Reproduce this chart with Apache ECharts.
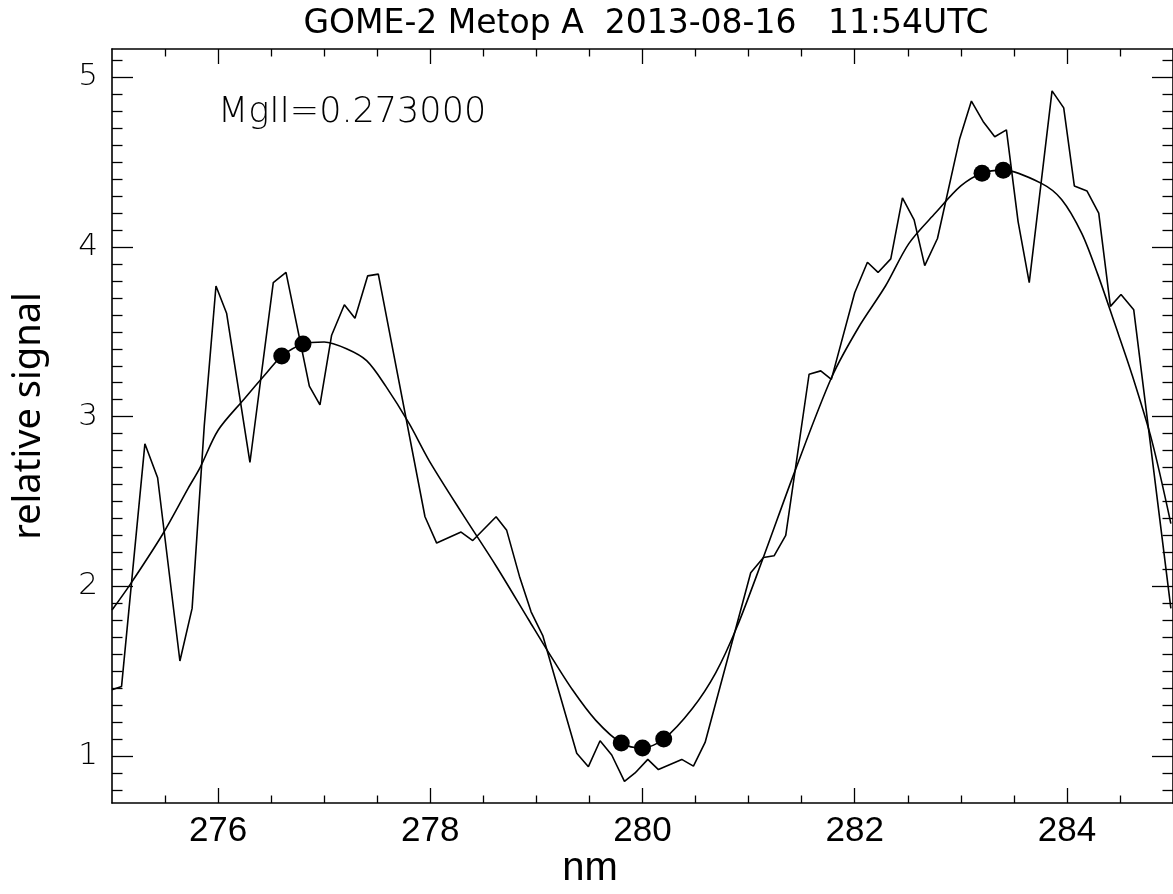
<!DOCTYPE html>
<html>
<head>
<meta charset="utf-8">
<script src="https://cdn.jsdelivr.net/npm/echarts@6/dist/echarts.min.js"></script>
<style>
html,body{margin:0;padding:0;background:#fff;}
#chart{width:1173px;height:894px;}
</style>
</head>
<body>
<div id="chart"></div>
<script>
// Measured spectrum (jagged line): wavelength (nm) and relative signal
const specNm = [275.00,275.09,275.31,275.43,275.64,275.755,275.87,275.98,276.08,276.30,276.52,276.64,276.86,276.96,277.07,277.19,277.29,277.41,277.51,277.95,278.06,278.29,278.40,278.62,278.72,278.84,278.95,279.06,279.38,279.49,279.60,279.71,279.83,279.93,280.05,280.15,280.37,280.48,280.59,281.02,281.14,281.24,281.35,281.57,281.68,281.78,282.00,282.12,282.22,282.34,282.45,282.56,282.66,282.78,282.99,283.10,283.21,283.32,283.43,283.54,283.645,283.86,283.97,284.07,284.19,284.30,284.41,284.51,284.63,284.98];
const specVal = [1.39,1.41,2.84,2.64,1.56,1.87,2.95,3.77,3.61,2.73,3.79,3.85,3.18,3.07,3.48,3.66,3.58,3.83,3.84,2.41,2.255,2.32,2.27,2.41,2.33,2.06,1.85,1.71,1.016,0.937,1.09,1.006,0.85,0.90,0.98,0.92,0.98,0.94,1.08,2.08,2.17,2.18,2.30,3.25,3.27,3.22,3.73,3.91,3.85,3.93,4.29,4.16,3.89,4.05,4.64,4.86,4.74,4.65,4.69,4.15,3.79,4.92,4.82,4.36,4.33,4.20,3.65,3.72,3.63,1.87];

// Smooth fitted curve
const fitNm = [275.00,275.17,275.48,275.72,275.83,276.00,276.24,276.46,276.60,276.80,277.00,277.21,277.40,277.58,277.80,277.99,278.30,278.62,278.93,279.12,279.34,279.56,279.80,280.00,280.20,280.47,280.69,280.89,281.13,281.44,281.785,282.04,282.29,282.51,282.76,283.00,283.20,283.40,283.76,283.95,284.14,284.29,284.45,284.61,284.80,284.98];
const fitVal = [1.86,2.01,2.31,2.58,2.70,2.92,3.10,3.26,3.357,3.428,3.44,3.40,3.33,3.18,2.96,2.74,2.43,2.12,1.80,1.605,1.39,1.21,1.077,1.047,1.10,1.28,1.49,1.76,2.155,2.685,3.235,3.53,3.77,4.02,4.20,4.36,4.435,4.453,4.375,4.28,4.08,3.84,3.55,3.255,2.86,2.37];

// Marked points (core / wing samples)
const dotNm = [276.6,276.8,279.8,280.0,280.2,283.2,283.4];
const dotVal = [3.357,3.428,1.077,1.047,1.10,4.435,4.453];

// Tick values
const xMajor = [276,278,280,282,284];
const xMinor = [275.5,276.5,277,277.5,278.5,279,279.5,280.5,281,281.5,282.5,283,283.5,284.5];
const yMajor = [1,2,3,4,5];
const yMinor = [0.8,0.9,1.1,1.2,1.3,1.4,1.5,1.6,1.7,1.8,1.9,2.1,2.2,2.3,2.4,2.5,2.6,2.7,2.8,2.9,3.1,3.2,3.3,3.4,3.5,3.6,3.7,3.8,3.9,4.1,4.2,4.3,4.4,4.5,4.6,4.7,4.8,4.9,5.1];

const titleText = 'GOME-2 Metop A  2013-08-16   11:54UTC';
const annotText = 'MgII=0.273000';
const xTitle = 'nm';
const yTitle = 'relative signal';

const X_MIN = 275, X_MAX = 285, Y_MIN = 0.723, Y_MAX = 5.167;
const black = '#000';

function xAx(pos, ticks, len, showLabel, showLine) {
  return {
    type: 'value', position: pos, min: X_MIN, max: X_MAX,
    axisLine: {show: showLine, onZero: false, lineStyle: {color: black, width: 1.6}},
    axisTick: {show: true, inside: true, length: len, customValues: ticks, lineStyle: {color: black, width: 1.3}},
    axisLabel: showLabel ? {show: true, customValues: ticks, color: black, fontFamily: 'Liberation Sans, Arial, sans-serif', fontSize: 35, margin: 11} : {show: false},
    splitLine: {show: false}
  };
}
function yAx(pos, ticks, len, showLabel, showLine) {
  return {
    type: 'value', position: pos, min: Y_MIN, max: Y_MAX,
    axisLine: {show: showLine, onZero: false, lineStyle: {color: black, width: 1.6}},
    axisTick: {show: true, inside: true, length: len, customValues: ticks, lineStyle: {color: black, width: 1.3}},
    axisLabel: showLabel ? {show: true, customValues: ticks, color: black, fontFamily: 'DejaVu Sans, Lato, sans-serif', fontWeight: 200, fontSize: 31, margin: 14} : {show: false},
    splitLine: {show: false}
  };
}

const chart = echarts.init(document.getElementById('chart'), null, {renderer: 'canvas'});
chart.setOption({
  backgroundColor: '#fff',
  animation: false,
  title: {
    text: titleText, left: 641, top: 3, textAlign: 'center',
    textStyle: {color: black, fontFamily: 'DejaVu Sans, Verdana, sans-serif', fontWeight: 'normal', fontSize: 33}
  },
  grid: {left: 112, right: -2, top: 49, bottom: 91, containLabel: false},
  xAxis: [
    xAx('bottom', xMajor, 15, true, true),
    xAx('bottom', xMinor, 7.5, false, false),
    xAx('top', xMajor, 15, false, true),
    xAx('top', xMinor, 7.5, false, false)
  ],
  yAxis: [
    yAx('left', yMajor, 21, true, true),
    yAx('left', yMinor, 10.5, false, false),
    yAx('right', yMajor, 21, false, true),
    yAx('right', yMinor, 10.5, false, false)
  ],
  graphic: [
    {
      type: 'text', left: 218, top: 95,
      style: {text: annotText, fill: black, font: '200 35px "DejaVu Sans", Lato, sans-serif'}
    },
    {
      type: 'text', x: 590, y: 869,
      style: {text: xTitle, fill: black, font: '40px "Liberation Sans", Arial, sans-serif', align: 'center', verticalAlign: 'middle'}
    },
    {
      type: 'text', x: 29, y: 416, rotation: Math.PI / 2,
      style: {text: yTitle, fill: black, font: '38px "Noto Sans", "Open Sans", sans-serif', align: 'center', verticalAlign: 'middle'}
    }
  ],
  series: [
    {
      type: 'line', xAxisIndex: 0, yAxisIndex: 0,
      data: specNm.map((x, i) => [x, specVal[i]]),
      showSymbol: false, symbol: 'none', clip: true,
      lineStyle: {color: black, width: 1.6}
    },
    {
      type: 'line', xAxisIndex: 0, yAxisIndex: 0,
      data: fitNm.map((x, i) => [x, fitVal[i]]),
      showSymbol: false, symbol: 'none', smooth: 0.3, clip: true,
      lineStyle: {color: black, width: 1.6}
    },
    {
      type: 'scatter', xAxisIndex: 0, yAxisIndex: 0,
      data: dotNm.map((x, i) => [x, dotVal[i]]),
      symbol: 'circle', symbolSize: 17,
      itemStyle: {color: black, opacity: 1}
    }
  ]
});
</script>
</body>
</html>
